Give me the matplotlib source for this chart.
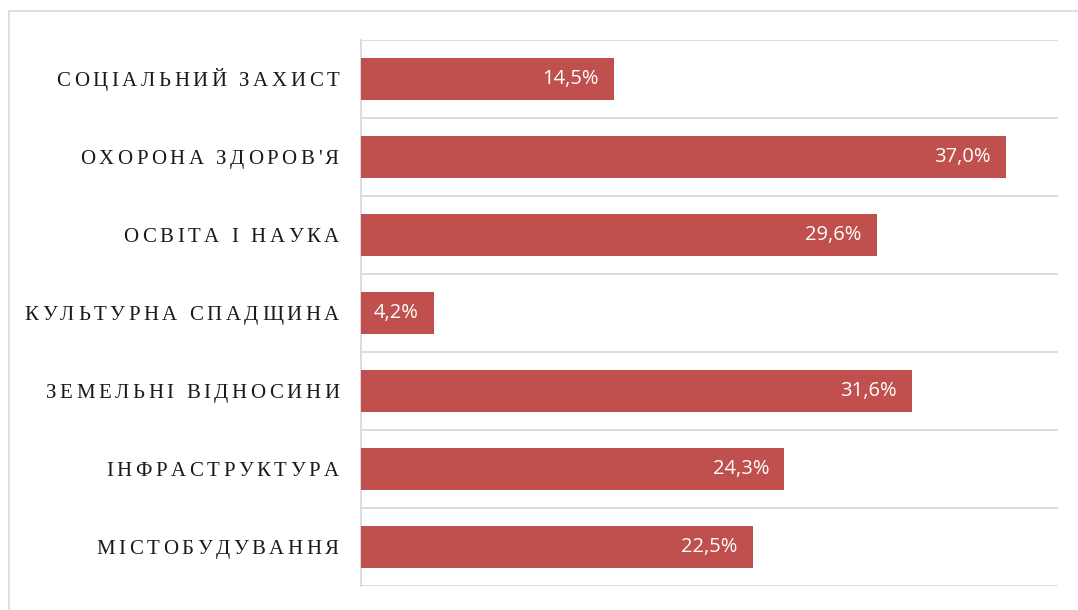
import matplotlib
matplotlib.use("Agg")
import matplotlib.pyplot as plt
from matplotlib.patches import Rectangle
from matplotlib.font_manager import FontProperties

categories = ["СОЦІАЛЬНИЙ ЗАХИСТ", "ОХОРОНА ЗДОРОВ'Я", "ОСВІТА І НАУКА",
              "КУЛЬТУРНА СПАДЩИНА", "ЗЕМЕЛЬНІ ВІДНОСИНИ", "ІНФРАСТРУКТУРА",
              "МІСТОБУДУВАННЯ"]
values = [14.5, 37.0, 29.6, 4.2, 31.6, 24.3, 22.5]
value_labels = ["14,5%", "37,0%", "29,6%", "4,2%", "31,6%", "24,3%", "22,5%"]

W, H = 1078, 610
fig = plt.figure(figsize=(W / 100, H / 100), dpi=100)
fig.patch.set_facecolor("white")

# outer chart border
fig.patches.append(Rectangle((9 / W, -0.05), 1.1, 1 - 11 / H + 0.05,
                             transform=fig.transFigure, fill=False,
                             edgecolor="#d9d9d9", linewidth=1.2))

ax = fig.add_axes([361 / W, 1 - 586 / H, (1058 - 361) / W, (586 - 40) / H])
n = len(categories)
ypos = list(range(n))
ax.barh(ypos, values, height=0.55, color="#c0504d", zorder=3)
ax.set_xlim(0, 40)
ax.set_ylim(n - 0.5, -0.5)

for y in [i - 0.5 for i in range(n + 1)]:
    ax.axhline(y, color="#d9d9d9", linewidth=1.3, zorder=1)

for s in ["top", "right", "bottom"]:
    ax.spines[s].set_visible(False)
ax.spines["left"].set_color("#d9d9d9")
ax.spines["left"].set_linewidth(1.3)
ax.set_xticks([])
ax.set_yticks([])

# letter-spaced category labels
renderer = fig.canvas.get_renderer()
fp = FontProperties(family="Liberation Serif", size=15)


def width(s):
    return renderer.get_text_width_height_descent(s, fp, ismath=False)[0]


def advance(c):
    return width("I" + c + "I") - width("II")


SP = 3.55     # extra pixels between letters
RIGHT = -22   # pixels left of the axis
for y, c in zip(ypos, categories):
    advs = [advance(ch) for ch in c]
    total = sum(advs) + SP * (len(c) - 1)
    x = RIGHT - total
    for ch, a in zip(c, advs):
        if ch != " ":
            ax.annotate(ch, xy=(0, y), xycoords="data", xytext=(x + a / 2, -2.5),
                        textcoords="offset pixels", ha="center", va="center",
                        fontproperties=fp, color="#1a1a1a")
        x += a + SP

for y, v, lab in zip(ypos, values, value_labels):
    ax.annotate(lab, xy=(v, y), xycoords="data", xytext=(-11, 0),
                textcoords="offset points", ha="right", va="center",
                fontsize=14.5, family="Open Sans", color="white", zorder=4)

fig.savefig("out.png", dpi=100, facecolor="white")
